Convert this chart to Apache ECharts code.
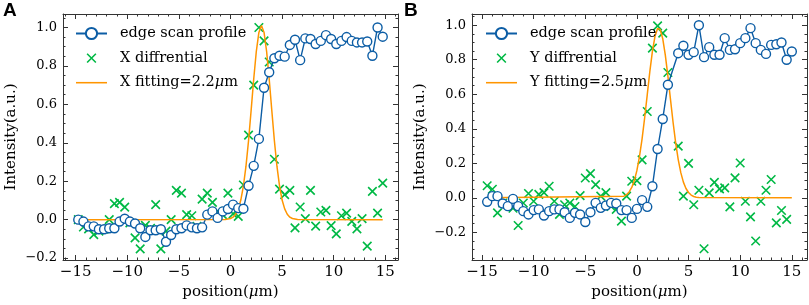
<!DOCTYPE html>
<html>
<head>
<meta charset="utf-8">
<script src="https://cdn.jsdelivr.net/npm/echarts@6/dist/echarts.min.js"></script>
<style>
html, body { margin: 0; padding: 0; background: #fff; }
#chart { width: 809px; height: 305px; }
</style>
</head>
<body>
<div id="chart"></div>
<script>
// ---- panel A (X scan) ----
var xPosA = [-14.75, -14.25, -13.75, -13.25, -12.75, -12.25, -11.75, -11.25, -10.75, -10.25,
    -9.75, -9.25, -8.75, -8.25, -7.75, -7.25, -6.75, -6.25, -5.75, -5.25,
    -4.75, -4.25, -3.75, -3.25, -2.75, -2.25, -1.75, -1.25, -0.75, -0.25,
    0.25, 0.75, 1.25, 1.75, 2.25, 2.75, 3.25, 3.75, 4.25, 4.75,
    5.25, 5.75, 6.25, 6.75, 7.25, 7.75, 8.25, 8.75, 9.25, 9.75,
    10.25, 10.75, 11.25, 11.75, 12.25, 12.75, 13.25, 13.75, 14.25, 14.75];
var profileA = [0.0, -0.01, -0.035, -0.035, -0.05, -0.05, -0.045, -0.045, -0.01, 0.005,
    -0.01, -0.02, -0.045, -0.09, -0.055, -0.055, -0.05, -0.115, -0.08, -0.05,
    -0.045, -0.03, -0.04, -0.045, -0.04, 0.026, 0.043, 0.009, 0.043, 0.055,
    0.078, 0.06, 0.057, 0.176, 0.28, 0.42, 0.686, 0.767, 0.84, 0.853,
    0.848, 0.909, 0.936, 0.83, 0.943, 0.94, 0.914, 0.93, 0.96, 0.94,
    0.914, 0.93, 0.95, 0.93, 0.922, 0.922, 0.927, 0.853, 1.0, 0.952];
var diffA = [0.0, -0.038, -0.048, -0.078, -0.06, -0.05, 0.0, 0.083, 0.09, 0.065,
    -0.017, -0.095, -0.152, -0.03, -0.045, 0.078, -0.152, -0.06, 0.0, 0.152,
    0.138, 0.026, 0.02, -0.035, 0.107, 0.138, 0.09, 0.043, 0.025, 0.138,
    0.03, 0.017, 0.18, 0.44, 0.70, 1.0, 0.93, 0.82, 0.314, 0.159,
    0.13, 0.152, -0.043, 0.066, 0.005, 0.152, -0.034, 0.04, 0.048, -0.031,
    -0.074, 0.02, 0.034, -0.009, -0.048, 0.005, -0.138, 0.147, 0.034, 0.19];
var fitAx = [-14.75, -0.5, 0, 0.25, 0.5, 0.75, 1, 1.25, 1.5, 1.75, 2, 2.25, 2.5, 2.75, 3,
    3.25, 3.5, 3.75, 4, 4.25, 4.5, 4.75, 5, 5.25, 5.5, 5.75, 6, 6.5, 14.75];
var fitAy = [0, 0.001, 0.006, 0.013, 0.028, 0.056, 0.102, 0.175, 0.278, 0.412, 0.569, 0.732, 0.875, 0.974, 1.01,
    0.974, 0.875, 0.732, 0.569, 0.412, 0.278, 0.175, 0.102, 0.056, 0.028, 0.013, 0.006, 0.001, 0];

// ---- panel B (Y scan) ----
var xPosB = [-14.5, -14, -13.5, -13, -12.5, -12, -11.5, -11, -10.5, -10,
    -9.5, -9, -8.5, -8, -7.5, -7, -6.5, -6, -5.5, -5,
    -4.5, -4, -3.5, -3, -2.5, -2, -1.5, -1, -0.5, 0,
    0.5, 1, 1.5, 2, 2.5, 3, 4, 4.5, 5, 5.5,
    6, 6.5, 7, 7.5, 8, 8.5, 9, 9.5, 10, 10.5,
    11, 11.5, 12, 12.5, 13, 13.5, 14, 14.5, 15];
var profileB = [-0.023, 0.01, 0.01, -0.033, -0.048, -0.006, -0.048, -0.077, -0.096, -0.071,
    -0.067, -0.102, -0.077, -0.067, -0.067, -0.083, -0.116, -0.087, -0.096, -0.14,
    -0.083, -0.029, -0.058, -0.044, -0.029, -0.033, -0.071, -0.071, -0.116, -0.064,
    -0.013, -0.052, 0.067, 0.283, 0.457, 0.655, 0.838, 0.881, 0.829, 0.844,
    1.0, 0.815, 0.873, 0.829, 0.829, 0.925, 0.857, 0.861, 0.896, 0.925,
    0.983, 0.896, 0.857, 0.834, 0.886, 0.89, 0.9, 0.8, 0.848];
var diffB = [0.07, 0.05, -0.087, -0.03, -0.04, -0.06, -0.16, -0.03, 0.025, -0.02,
    0.02, 0.03, 0.067, -0.02, -0.096, -0.04, -0.03, -0.05, 0.013, 0.115,
    0.14, 0.077, 0.01, 0.03, -0.05, -0.067, -0.135, 0.01, 0.096, 0.1,
    0.22, 0.50, 0.867, 0.996, 0.954, 0.726, 0.30, 0.01, 0.2, -0.04,
    0.044, -0.295, 0.029, 0.09, 0.052, 0.058, -0.052, 0.116, 0.202, -0.02,
    -0.11, -0.25, -0.02, 0.044, 0.106, -0.145, -0.073, -0.125];
var fitBx = [-14.5, -1.25, -1, -0.75, -0.5, -0.25, 0, 0.25, 0.5, 0.75, 1, 1.25, 1.5, 1.75, 2,
    2.25, 2.5, 2.75, 3, 3.25, 3.5, 3.75, 4, 4.25, 4.5, 4.75, 5, 5.25, 5.5, 5.75, 6, 15];
var fitBy = [0, 0.01, 0.019, 0.034, 0.06, 0.1, 0.159, 0.24, 0.342, 0.464, 0.597, 0.731, 0.849, 0.936, 0.981,
    0.976, 0.922, 0.827, 0.705, 0.57, 0.438, 0.32, 0.222, 0.146, 0.091, 0.054, 0.031, 0.016, 0.008, 0.004, 0.002, 0];

// ---- ticks ----
var xMajor = [-15, -10, -5, 0, 5, 10, 15];
var xMinor = [-16, -14, -13, -12, -11, -9, -8, -7, -6, -4, -3, -2, -1, 1, 2, 3, 4, 6, 7, 8, 9, 11, 12, 13, 14, 16];
var yMajor = [-0.2, 0, 0.2, 0.4, 0.6, 0.8, 1.0];
var yMinor = [-0.35, -0.3, -0.25, -0.15, -0.1, -0.05, 0.05, 0.1, 0.15, 0.25, 0.3, 0.35,
    0.45, 0.5, 0.55, 0.65, 0.7, 0.75, 0.85, 0.9, 0.95, 1.05];

var BLUE = '#0C5DA5', GREEN = '#00B945', ORANGE = '#FF9500', EDGE = '#333';
var FONT = '"DejaVu Serif", serif';
var CROSS = 'path://M0,0L10,10M10,0L0,10';
// same cross with empty margin so the legend draws it smaller
var CROSS_ICON = 'path://M-3,-3L-3,-3M13,13L13,13M0,0L10,10M10,0L0,10';
var BAR_ICON = 'path://M0,0H30V1.5H0Z';

function richFor(size) {
    return { i: { fontStyle: 'italic', fontFamily: FONT, fontSize: size, color: '#000' } };
}

function pairs(xs, ys) {
    return ys.map(function (v, i) { return [xs[i], v]; });
}
function minus(s) { return s.replace('-', '\u2212'); }
function fmtX(v) { return minus(String(Math.round(v))); }
function fmtY(v) { return Math.abs(v) < 1e-9 ? '0.0' : minus(v.toFixed(1)); }

function tick(vals, len) {
    return { show: true, inside: true, length: len, customValues: vals, lineStyle: { color: EDGE, width: 1 } };
}
var frameLine = { show: true, onZero: false, lineStyle: { color: EDGE, width: 1 } };
var noLine = { show: false, onZero: false };

function xAxes(gi, min, max) {
    var base = { gridIndex: gi, type: 'value', min: min, max: max, splitLine: { show: false } };
    return [
        Object.assign({}, base, {
            position: 'bottom', axisLine: frameLine, axisTick: tick(xMajor, 5),
            axisLabel: { customValues: xMajor, formatter: fmtX, color: '#000', fontFamily: FONT, fontSize: 15, margin: 5 },
            name: 'position({i|\u03bc}m)', nameLocation: 'middle', nameGap: 25,
            nameTextStyle: { color: '#000', fontFamily: FONT, fontSize: 15, rich: richFor(15) }
        }),
        Object.assign({}, base, { position: 'bottom', axisLine: noLine, axisTick: tick(xMinor, 2.5), axisLabel: { show: false } }),
        Object.assign({}, base, { position: 'top', axisLine: frameLine, axisTick: tick(xMajor, 5), axisLabel: { show: false } }),
        Object.assign({}, base, { position: 'top', axisLine: noLine, axisTick: tick(xMinor, 2.5), axisLabel: { show: false } })
    ];
}
function yAxes(gi, min, max) {
    var base = { gridIndex: gi, type: 'value', min: min, max: max, splitLine: { show: false } };
    return [
        Object.assign({}, base, {
            position: 'left', axisLine: frameLine, axisTick: tick(yMajor, 5),
            axisLabel: { customValues: yMajor, formatter: fmtY, color: '#000', fontFamily: FONT, fontSize: 13, margin: 6 },
            name: 'Intensity(a.u.)', nameLocation: 'middle', nameGap: 44,
            nameTextStyle: { color: '#000', fontFamily: FONT, fontSize: 15 }
        }),
        Object.assign({}, base, { position: 'left', axisLine: noLine, axisTick: tick(yMinor, 2.5), axisLabel: { show: false } }),
        Object.assign({}, base, { position: 'right', axisLine: frameLine, axisTick: tick(yMajor, 5), axisLabel: { show: false } }),
        Object.assign({}, base, { position: 'right', axisLine: noLine, axisTick: tick(yMinor, 2.5), axisLabel: { show: false } })
    ];
}

function panelSeries(ax, prof, diff, fit, names) {
    return [
        {
            name: names[0], type: 'line', xAxisIndex: ax, yAxisIndex: ax,
            data: prof, symbol: 'circle', symbolSize: 9, showAllSymbol: true,
            lineStyle: { color: BLUE, width: 1.4 },
            itemStyle: { color: '#fff', borderColor: BLUE, borderWidth: 1.4 }
        },
        {
            name: names[1], type: 'scatter', xAxisIndex: ax, yAxisIndex: ax,
            data: diff, symbol: CROSS, symbolSize: 8.5,
            itemStyle: { color: 'rgba(0,0,0,0)', borderColor: GREEN, borderWidth: 1.6, opacity: 1 }
        },
        {
            name: names[2], type: 'line', xAxisIndex: ax, yAxisIndex: ax,
            data: fit, symbol: 'none',
            lineStyle: { color: ORANGE, width: 1.5 }, itemStyle: { color: ORANGE }
        }
    ];
}

function legendFor(left, names) {
    return {
        left: left, top: 26, orient: 'vertical', padding: 0,
        itemWidth: 31, itemHeight: 14, itemGap: 9.3,
        data: [
            { name: names[0] },
            { name: names[1], icon: CROSS_ICON, itemStyle: { color: 'rgba(0,0,0,0)', borderColor: GREEN, borderWidth: 1.6 } },
            { name: names[2], icon: BAR_ICON, itemStyle: { color: ORANGE, borderWidth: 0 } }
        ],
        formatter: function (n) { return n.replace('\u03bc', '{i|\u03bc}'); },
        textStyle: { color: '#000', fontFamily: FONT, fontSize: 14.5, padding: [0, 0, 0, 8], rich: richFor(14.5) }
    };
}

var namesA = ['edge scan profile', 'X diffrential', 'X fitting=2.2\u03bcm'];
var namesB = ['edge scan profile', 'Y diffrential', 'Y fitting=2.5\u03bcm'];

var chart = echarts.init(document.getElementById('chart'), null, { renderer: 'canvas' });
var option = {
    animation: false,
    backgroundColor: '#fff',
    grid: [
        { left: 63, top: 14, width: 335, height: 246, containLabel: false, outerBoundsMode: 'none' },
        { left: 472, top: 14, width: 335, height: 246, containLabel: false, outerBoundsMode: 'none' }
    ],
    xAxis: xAxes(0, -16.23, 16.23).concat(xAxes(1, -15.97, 16.47)),
    yAxis: yAxes(0, -0.21, 1.07).concat(yAxes(1, -0.36, 1.065)),
    legend: [legendFor(75, namesA), legendFor(485, namesB)],
    graphic: [
        { type: 'text', left: 3, top: 1, style: { text: 'A', font: 'bold 19px "Liberation Sans", Arial, sans-serif', fill: '#000' } },
        { type: 'text', left: 404, top: 1, style: { text: 'B', font: 'bold 19px "Liberation Sans", Arial, sans-serif', fill: '#000' } }
    ],
    series: panelSeries(0, pairs(xPosA, profileA), pairs(xPosA, diffA), pairs(fitAx, fitAy), namesA)
        .concat(panelSeries(4, pairs(xPosB, profileB), pairs(xPosB, diffB), pairs(fitBx, fitBy), namesB))
};
chart.setOption(option);
</script>
</body>
</html>
